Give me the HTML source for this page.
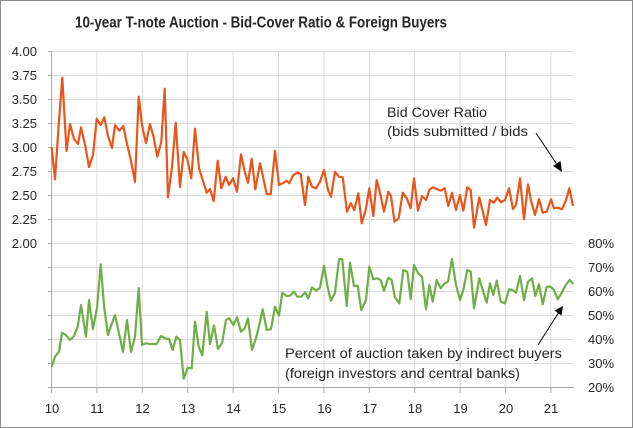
<!DOCTYPE html>
<html><head><meta charset="utf-8"><style>
html,body{margin:0;padding:0;background:#fff;}
svg{display:block;}
text{font-family:"Liberation Sans",Arial,sans-serif;fill:#262626;}
</style></head><body>
<svg width="633" height="428" viewBox="0 0 633 428" xmlns="http://www.w3.org/2000/svg">
<rect x="0.5" y="0.5" width="632" height="427" fill="#fff" stroke="#8c8c8c" stroke-width="1"/>
<text x="75" y="27.5" font-size="15.5" font-weight="bold" textLength="372" lengthAdjust="spacingAndGlyphs">10-year T-note Auction - Bid-Cover Ratio &amp; Foreign Buyers</text>
<g stroke="#d9d9d9" stroke-width="1">
<line x1="51.5" y1="51.5" x2="574" y2="51.5"/>
<line x1="51.5" y1="75.5" x2="574" y2="75.5"/>
<line x1="51.5" y1="99.5" x2="574" y2="99.5"/>
<line x1="51.5" y1="123.5" x2="574" y2="123.5"/>
<line x1="51.5" y1="147.5" x2="574" y2="147.5"/>
<line x1="51.5" y1="171.5" x2="574" y2="171.5"/>
<line x1="51.5" y1="195.5" x2="574" y2="195.5"/>
<line x1="51.5" y1="219.5" x2="574" y2="219.5"/>
<line x1="51.5" y1="243.5" x2="574" y2="243.5"/>
<line x1="51.5" y1="267.5" x2="574" y2="267.5"/>
<line x1="51.5" y1="291.5" x2="574" y2="291.5"/>
<line x1="51.5" y1="315.5" x2="574" y2="315.5"/>
<line x1="51.5" y1="339.5" x2="574" y2="339.5"/>
<line x1="51.5" y1="363.5" x2="574" y2="363.5"/>
<line x1="96.9" y1="51.5" x2="96.9" y2="387.5"/>
<line x1="142.3" y1="51.5" x2="142.3" y2="387.5"/>
<line x1="187.7" y1="51.5" x2="187.7" y2="387.5"/>
<line x1="233.1" y1="51.5" x2="233.1" y2="387.5"/>
<line x1="278.5" y1="51.5" x2="278.5" y2="387.5"/>
<line x1="323.9" y1="51.5" x2="323.9" y2="387.5"/>
<line x1="369.3" y1="51.5" x2="369.3" y2="387.5"/>
<line x1="414.7" y1="51.5" x2="414.7" y2="387.5"/>
<line x1="460.1" y1="51.5" x2="460.1" y2="387.5"/>
<line x1="505.5" y1="51.5" x2="505.5" y2="387.5"/>
<line x1="550.9" y1="51.5" x2="550.9" y2="387.5"/>
</g>
<g stroke="#a6a6a6" stroke-width="1">
<line x1="51.5" y1="51.5" x2="51.5" y2="388"/>
<line x1="51.5" y1="387.5" x2="574" y2="387.5"/>
<line x1="48" y1="51.5" x2="51.5" y2="51.5"/>
<line x1="48" y1="75.5" x2="51.5" y2="75.5"/>
<line x1="48" y1="99.5" x2="51.5" y2="99.5"/>
<line x1="48" y1="123.5" x2="51.5" y2="123.5"/>
<line x1="48" y1="147.5" x2="51.5" y2="147.5"/>
<line x1="48" y1="171.5" x2="51.5" y2="171.5"/>
<line x1="48" y1="195.5" x2="51.5" y2="195.5"/>
<line x1="48" y1="219.5" x2="51.5" y2="219.5"/>
<line x1="48" y1="243.5" x2="51.5" y2="243.5"/>
<line x1="48" y1="267.5" x2="51.5" y2="267.5"/>
<line x1="48" y1="291.5" x2="51.5" y2="291.5"/>
<line x1="48" y1="315.5" x2="51.5" y2="315.5"/>
<line x1="48" y1="339.5" x2="51.5" y2="339.5"/>
<line x1="48" y1="363.5" x2="51.5" y2="363.5"/>
<line x1="48" y1="387.5" x2="51.5" y2="387.5"/>
<line x1="51.5" y1="387.5" x2="51.5" y2="393"/>
<line x1="96.9" y1="387.5" x2="96.9" y2="393"/>
<line x1="142.3" y1="387.5" x2="142.3" y2="393"/>
<line x1="187.7" y1="387.5" x2="187.7" y2="393"/>
<line x1="233.1" y1="387.5" x2="233.1" y2="393"/>
<line x1="278.5" y1="387.5" x2="278.5" y2="393"/>
<line x1="323.9" y1="387.5" x2="323.9" y2="393"/>
<line x1="369.3" y1="387.5" x2="369.3" y2="393"/>
<line x1="414.7" y1="387.5" x2="414.7" y2="393"/>
<line x1="460.1" y1="387.5" x2="460.1" y2="393"/>
<line x1="505.5" y1="387.5" x2="505.5" y2="393"/>
<line x1="550.9" y1="387.5" x2="550.9" y2="393"/>
</g>
<g font-size="13" text-anchor="end">
<text x="37" y="56">4.00</text>
<text x="37" y="80">3.75</text>
<text x="37" y="104">3.50</text>
<text x="37" y="128">3.25</text>
<text x="37" y="152">3.00</text>
<text x="37" y="176">2.75</text>
<text x="37" y="200">2.50</text>
<text x="37" y="224">2.25</text>
<text x="37" y="248">2.00</text>
</g>
<g font-size="13" text-anchor="start">
<text x="588" y="248">80%</text>
<text x="588" y="272">70%</text>
<text x="588" y="296">60%</text>
<text x="588" y="320">50%</text>
<text x="588" y="344">40%</text>
<text x="588" y="368">30%</text>
<text x="588" y="392">20%</text>
</g>
<g font-size="13" text-anchor="middle">
<text x="52" y="413">10</text>
<text x="97" y="413">11</text>
<text x="142.5" y="413">12</text>
<text x="188" y="413">13</text>
<text x="233.5" y="413">14</text>
<text x="279" y="413">15</text>
<text x="324.5" y="413">16</text>
<text x="370" y="413">17</text>
<text x="415" y="413">18</text>
<text x="460.5" y="413">19</text>
<text x="506" y="413">20</text>
<text x="551" y="413">21</text>
</g>
<polyline fill="none" stroke="#E8561C" stroke-width="2.2" stroke-linejoin="round" points="51.7,147.3 55,179.3 58.7,125 62.3,77.7 66.5,151 70,124 74,139 78,144 81,127.3 85.3,146 89,167 93,155 96.7,118.7 100.7,125 104.3,117.3 108,136 112,148 115,125 119.3,130.7 123.3,126 127,144 131,160.7 135,182 138.7,96.7 142.3,126.7 146,143.3 150,124 153.7,137.3 157.3,156.7 161.3,141.7 164.7,88.7 168,197.3 172,166.7 175.7,122.7 180,187 183.7,152 187.3,159.3 191.3,178.3 195,128.7 199,168 202.3,178.7 206.7,192.7 210,189 213.7,201 217.7,160.7 221.3,188.3 225.7,176.7 229,185 233,178.3 237,191.7 241,154.3 244.7,171.7 248,182.7 251.7,158.7 255.3,189.3 260,163.3 263.3,178.3 266.7,194 270.7,194 275,150.7 279,185 282.7,183.3 286.7,180.7 289.3,183.3 293.3,175 297.3,172.7 300.7,174 305,205 308.3,176.7 312,186.7 316,188.3 320,181.7 324,170 328,190 331,196.7 335,171.7 339,176.7 342.7,177.3 347,211.7 350.7,203.3 354.3,210 358.3,193.3 361.7,223.3 365.7,210 369.3,188.3 373.3,216 376.7,180 380.7,196 384,211.7 388.3,191.7 391,196 394.5,221.7 398.7,218.3 402.7,192.7 406.7,198.3 410.7,208.3 414,178.3 418,210.7 422,196 426,200 429.3,190 432.7,187.3 436.7,189 440.7,190.7 444.7,188.3 448.3,206 452,192.7 456,210 460,195 463.3,210.7 467.3,187.3 470.7,190 474,227.7 479.3,197.3 486,225 490,200 493.7,202.7 497.3,197.7 501,202.3 505,200 509,188.3 513,209 516,205 520,178.3 524,219.3 528,184.3 531.3,201.7 535,215 539,199.3 542.7,212.7 546.7,211.7 551,199.3 554,208.3 558,207.7 562,209.3 565.7,201 569.3,188.3 573,206"/>
<polyline fill="none" stroke="#70AD47" stroke-width="2.2" stroke-linejoin="round" points="51.7,366.7 55,356.7 59,351.7 62,332.7 66,335 70,340 74,336 77.7,326.7 81,305 86,336.7 89,300 93,329.3 97,307.7 100.7,264.3 104.3,308.3 108,335 111.3,325 115,315 119,333.3 123,352 127,320 131,352 135,336.7 138.7,288 142,345 146,343.3 150,344 156.7,344 161,336 165,338.3 169,339 172.7,350 176.3,336.7 180,340 183.7,378.7 187.7,367.7 191.7,368.3 195,321.7 198.7,346.7 202.3,355.3 206.7,311.7 210,344 214,325.5 218,349 222,343.3 226,320 229.3,318.3 233.3,325 237,317.3 241,331.7 244.7,328.3 248,318.3 252,350 256,338.3 259.3,325 262.7,309.3 266.7,330 271,329 275,306.7 279,315.7 282.3,292.7 286.7,296 290,295.7 294,291.7 297.3,296.7 301.3,296.7 305,292.3 308.3,298.3 312,287.3 316,290.7 320,287.7 324,265.7 327.7,287.7 331,300.7 335,292.7 339,259 342.3,259.3 346.7,306 350,262.7 354,286 357.7,285.7 361.3,310 366,300 369.3,266.7 373.3,279.3 376.7,278.3 380.7,280 384,290.7 388.3,277.7 391.7,280 394.7,296.7 399.3,303.3 403.3,270 407.3,271.7 410.7,299.3 414,265 418,273.3 422,276.7 426,309.3 429.3,285 432.7,301.7 436.7,280 440.7,288.3 444.7,283.3 448,281.7 452,259 456,285 460,300 463.3,290 467.3,270 470.7,271.7 474,308.3 479.3,278.3 482.7,290 486.7,302.7 490,283.3 493.3,295 496.7,280.7 500.7,301.7 505,303.3 509,289.3 512.7,290 516,292.7 520,276 524,300 528,281.7 532,278.3 535.3,296 539,284.3 542.7,304.3 546.7,286.7 550.7,286.7 554,290 557.7,299.3 561.7,292.7 565.7,285 569.7,280 573.3,284"/>
<g font-size="13.5">
<text x="387" y="117" textLength="100" lengthAdjust="spacingAndGlyphs">Bid Cover  Ratio</text>
<text x="387" y="136" textLength="141" lengthAdjust="spacingAndGlyphs">(bids submitted  / bids</text>
<text x="285" y="358" textLength="277" lengthAdjust="spacingAndGlyphs">Percent of auction taken by indirect buyers</text>
<text x="285" y="378" textLength="235" lengthAdjust="spacingAndGlyphs">(foreign investors and central banks)</text>
</g>
<g stroke="#000" stroke-width="1" fill="#000">
<line x1="536" y1="133" x2="558" y2="166"/>
<polygon points="562,172 553,166 560.5,161" stroke="none"/>
<line x1="538" y1="345" x2="559" y2="312"/>
<polygon points="563,306 554.5,310.5 561.5,315.5" stroke="none"/>
</g>
</svg>
</body></html>
